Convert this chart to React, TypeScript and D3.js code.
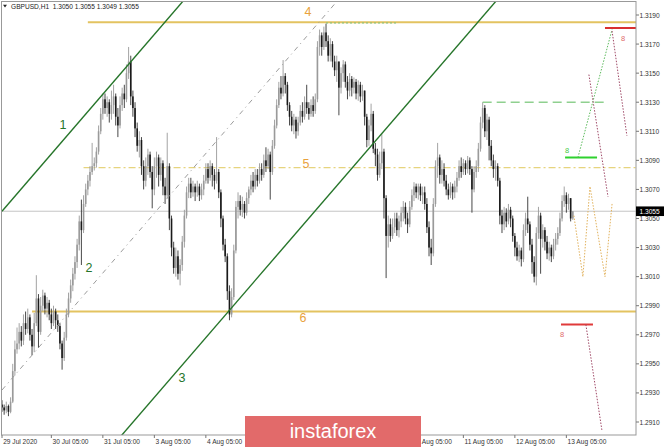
import React from "react";
import * as d3 from "d3";

// Prices are stored in pips above BASE (value 155 => 1.3055)
const BASE = 1.29;
const FIRST_OPEN = 22;
const CLOSE = [
  20, 18, 21, 17, 24, 45, 60, 64, 72, 66,
  78, 74, 82, 70, 62, 78, 95, 72, 90, 97,
  88, 92, 84, 78, 86, 80, 76, 64, 54, 68,
  84, 95, 104, 112, 120, 132, 148, 142, 160, 170,
  176, 182, 186, 188, 196, 210, 222, 232, 226, 230,
  222, 228, 234, 220, 214, 228, 236, 232, 250, 258,
  234, 226, 212, 200, 204, 186, 176, 186, 194, 182,
  170, 186, 192, 180, 188, 172, 166, 186, 150, 130,
  116, 124, 112, 118, 134, 152, 168, 174, 168, 172,
  168, 172, 166, 170, 176, 184, 178, 186, 180, 176,
  182, 168, 150, 132, 124, 100, 84, 96, 128, 158,
  162, 156, 160, 154, 164, 170, 176, 172, 180, 176,
  184, 180, 190, 186, 194, 182, 200, 214, 228, 240,
  236, 248, 242, 228, 220, 214, 218, 210, 216, 224,
  220, 230, 226, 222, 228, 224, 232, 268, 276, 268,
  278, 272, 262, 270, 258, 252, 258, 240, 250, 256,
  244, 238, 246, 240, 244, 236, 242, 234, 238, 220,
  204, 214, 222, 198, 194, 180, 188, 196, 164, 138,
  146, 138, 144, 150, 142, 148, 154, 158, 150, 146,
  158, 166, 172, 168, 172, 166, 168, 160, 144, 130,
  126, 160, 186, 192, 180, 184, 176, 170, 166, 172,
  168, 172, 178, 186, 182, 188, 184, 190, 184, 170,
  182, 186, 198, 216, 226, 210, 218, 200, 190, 184,
  186, 176, 152, 146, 154, 148, 156, 150, 138, 130,
  124, 128, 122, 142, 150, 146, 132, 120, 110, 140,
  152, 136, 142, 134, 126, 130, 124, 132, 136, 140,
  150, 162, 166, 160, 164, 150, 155,
];
const HIGH = [
  25, 22, 24, 22, 27, 50, 66, 75, 78, 76,
  84, 86, 88, 84, 74, 85, 111, 98, 96, 101,
  99, 96, 94, 88, 90, 88, 84, 78, 66, 72,
  88, 99, 108, 116, 124, 136, 152, 163, 166, 174,
  180, 186, 202, 192, 199, 214, 226, 236, 236, 234,
  232, 238, 242, 236, 226, 234, 240, 242, 256, 268,
  262, 238, 230, 216, 210, 206, 190, 192, 198, 196,
  186, 192, 196, 194, 192, 190, 178, 209, 188, 152,
  134, 130, 128, 122, 138, 156, 172, 178, 178, 176,
  174, 176, 174, 174, 180, 188, 188, 190, 188, 184,
  206, 184, 170, 152, 136, 126, 104, 102, 132, 162,
  168, 166, 165, 162, 168, 172, 180, 182, 184, 184,
  188, 188, 194, 199, 198, 196, 204, 218, 232, 244,
  248, 259, 250, 244, 230, 224, 222, 220, 220, 228,
  230, 234, 242, 230, 232, 234, 236, 272, 280, 278,
  282, 284, 276, 274, 272, 262, 262, 258, 254, 259,
  258, 248, 250, 248, 247, 246, 245, 244, 242, 238,
  222, 218, 229, 224, 202, 198, 196, 208, 198, 166,
  152, 150, 150, 154, 154, 152, 158, 162, 161, 154,
  162, 170, 175, 174, 174, 174, 172, 172, 164, 148,
  136, 164, 190, 202, 194, 190, 188, 180, 174, 175,
  174, 176, 182, 190, 192, 191, 190, 193, 192, 186,
  186, 190, 202, 220, 230, 228, 222, 220, 204, 194,
  190, 188, 178, 156, 158, 157, 160, 158, 152, 140,
  134, 132, 130, 146, 154, 165, 148, 136, 124, 144,
  158, 154, 146, 144, 138, 134, 132, 136, 140, 144,
  154, 166, 172, 168, 167, 164, 155,
];
const LOW = [
  17, 15, 16, 14, 16, 23, 42, 57, 60, 62,
  63, 70, 71, 66, 56, 58, 76, 61, 70, 86,
  84, 82, 80, 74, 76, 74, 72, 60, 46, 52,
  66, 82, 92, 100, 108, 116, 128, 118, 140, 158,
  166, 172, 180, 183, 185, 194, 208, 218, 222, 220,
  216, 218, 222, 214, 206, 212, 224, 226, 230, 246,
  228, 220, 206, 196, 192, 180, 170, 172, 180, 178,
  157, 166, 178, 172, 176, 166, 160, 164, 142, 124,
  112, 110, 108, 104, 114, 130, 150, 164, 164, 165,
  162, 165, 162, 163, 166, 174, 174, 176, 172, 170,
  174, 164, 144, 128, 120, 94, 80, 82, 94, 126,
  150, 152, 151, 150, 152, 160, 166, 168, 170, 172,
  174, 176, 178, 182, 184, 163, 180, 198, 212, 226,
  232, 234, 236, 224, 214, 210, 208, 205, 207, 214,
  216, 218, 222, 218, 220, 220, 222, 230, 262, 262,
  266, 268, 258, 258, 254, 248, 244, 221, 236, 244,
  240, 232, 234, 234, 236, 232, 231, 230, 231, 214,
  199, 200, 210, 195, 186, 176, 178, 184, 150, 109,
  130, 134, 136, 140, 138, 137, 144, 148, 146, 140,
  144, 156, 162, 164, 163, 162, 160, 156, 140, 124,
  118, 124, 158, 178, 174, 174, 172, 166, 163, 164,
  163, 164, 168, 176, 178, 180, 180, 181, 180, 154,
  168, 178, 182, 196, 212, 206, 204, 190, 186, 178,
  176, 172, 146, 140, 142, 144, 146, 144, 134, 124,
  121, 120, 117, 120, 138, 140, 128, 112, 106, 104,
  136, 112, 130, 128, 122, 121, 120, 122, 128, 132,
  138, 148, 158, 154, 156, 148, 149,
];

const PRICE_TICKS = [1.319, 1.317, 1.315, 1.313, 1.311, 1.309, 1.307, 1.305, 1.303, 1.301, 1.299, 1.297, 1.295, 1.293, 1.291];
// time labels visible in the reference (5-7 Aug lie under the watermark)
const TIME_TICK_INDEX = [0, 23, 47, 71, 95, 191, 215, 239, 263];
const TIME_TICK_LABEL = ["29 Jul 2020", "30 Jul 05:00", "31 Jul 05:00", "3 Aug 05:00", "4 Aug 05:00", "10 Aug 05:00", "11 Aug 05:00", "12 Aug 05:00", "13 Aug 05:00"];
const CURRENT_PRICE = 1.3055;
const TITLE = "GBPUSD,H1  1.3050 1.3055 1.3049 1.3055";

// channel lines [index, price]
const CHANNEL_1: [number, number][] = [[0, 1.3055], [90, 1.32092]];
const CHANNEL_2: [number, number][] = [[0, 1.2932], [160, 1.32061]];
const CHANNEL_3: [number, number][] = [[50, 1.2891], [240, 1.32163]];
// horizontal levels [start index, price]
const LEVEL_4: [number, number] = [40, 1.3185];
const LEVEL_5: [number, number] = [38, 1.3085];
const LEVEL_6: [number, number] = [14, 1.2986];
const PEAK_DOT: [number, number][] = [[151, 1.31845], [184, 1.31845]];
// projections
const GREEN_DASH: [number, number][] = [[224, 1.313], [282.4, 1.313]];
const GREEN_SOLID: [number, number][] = [[262.4, 1.3092], [277.3, 1.3092]];
const GREEN_DOT: [number, number][] = [[268.4, 1.3092], [284.3, 1.318]];
const RED_TOP: [number, number][] = [[281, 1.3181], [296, 1.3181]];
const PURPLE_A: [number, number][] = [[284.3, 1.3179], [291.2, 1.3107]];
const PURPLE_B: [number, number][] = [[273.5, 1.3149], [282.4, 1.3065]];
const ORANGE_ZIG: [number, number][] = [[266.5, 1.3052], [270.7, 1.301], [274, 1.3072], [281, 1.301], [284.3, 1.306]];
const RED_BOTTOM: [number, number][] = [[260.5, 1.2977], [275.4, 1.2977]];
const PURPLE_C: [number, number][] = [[272.1, 1.2977], [279.6, 1.2904]];

const NUM_LABEL_TEXT = ["1", "2", "3", "4", "5", "6"];
const NUM_LABEL_POS: [number, number][] = [[28.4, 1.3114], [40.5, 1.3016], [83.9, 1.2940], [142.6, 1.3192], [141.7, 1.30875], [140.3, 1.29815]];
const SMALL_LABEL_POS: [number, number][] = [[263.3, 1.3097], [289.4, 1.3174], [261, 1.297]];

const GREEN = "#26752a";
const ORANGE = "#e9a23c";
const FONT = "Liberation Sans, Arial, sans-serif";

export default function App() {
  const x = d3.scaleLinear().domain([0, 266]).range([2, 572.8]);
  const y = d3.scaleLinear().domain([1.291, 1.319]).range([422, 15]);
  const P = (v: number) => BASE + v / 10000;
  const L = 1, T = 1, R = 636, B = 435;
  const line = d3.line<[number, number]>().x((d) => x(d[0])).y((d) => y(d[1]));

  const bars = CLOSE.map((c, i) => {
    const o = i === 0 ? FIRST_OPEN : CLOSE[i - 1];
    const h = Math.max(HIGH[i], o, c);
    const l = Math.min(LOW[i], o, c);
    return { i, o: P(o), h: P(h), l: P(l), c: P(c) };
  });

  const hLevel = (lv: [number, number]) => (
    [[lv[0], lv[1]], [x.invert(R), lv[1]]] as [number, number][]
  );

  return (
    <svg width={665} height={447} style={{ position: "fixed", left: 0, top: 0, background: "#fff" }} fontFamily={FONT}>
      <defs>
        <clipPath id="plot"><rect x={L} y={T} width={R - L} height={B - T} /></clipPath>
      </defs>
      <rect width={665} height={447} fill="#fff" />
      <g clipPath="url(#plot)">
        <line x1={L} x2={R} y1={y(CURRENT_PRICE)} y2={y(CURRENT_PRICE)} stroke="#c4c4c4" strokeWidth={1} />
        <path d={line(hLevel(LEVEL_5))!} stroke="#e6d47e" strokeWidth={1.4} strokeDasharray="7,3,2,3" fill="none" />
        <path d={line(hLevel(LEVEL_4))!} stroke="#e3c360" strokeWidth={2} fill="none" />
        <path d={line(hLevel(LEVEL_6))!} stroke="#e3c360" strokeWidth={2} fill="none" />
        <path d={line(PEAK_DOT)!} stroke="#7cc07c" strokeWidth={1} strokeDasharray="2,2" fill="none" />
        {bars.map((b) => {
          const bear = b.c < b.o;
          const col = bear ? "#1a1a1a" : "#9a9a9a";
          const top = y(Math.max(b.o, b.c));
          const bot = y(Math.min(b.o, b.c));
          return (
            <g key={b.i}>
              <line x1={x(b.i)} x2={x(b.i)} y1={y(b.h)} y2={y(b.l)} stroke={bear ? "#333" : "#999"} strokeWidth={0.9} />
              <rect x={x(b.i) - 0.8} y={top} width={1.6} height={Math.max(0.8, bot - top)} fill={col} />
            </g>
          );
        })}
        <path d={line(CHANNEL_2)!} stroke="#9c9c9c" strokeWidth={1} strokeDasharray="5,4,1,4" fill="none" />
        <path d={line(CHANNEL_1)!} stroke={GREEN} strokeWidth={1.4} fill="none" />
        <path d={line(CHANNEL_3)!} stroke={GREEN} strokeWidth={1.4} fill="none" />
        <path d={line(GREEN_DASH)!} stroke="#8fd08f" strokeWidth={1.4} strokeDasharray="9,5" fill="none" />
        <path d={line(GREEN_SOLID)!} stroke="#2ed12e" strokeWidth={2} fill="none" />
        <path d={line(GREEN_DOT)!} stroke="#5dbb5d" strokeWidth={1} strokeDasharray="1.5,1.5" fill="none" />
        <path d={line(RED_TOP)!} stroke="#d93030" strokeWidth={2} fill="none" />
        <path d={line(RED_BOTTOM)!} stroke="#e03a3a" strokeWidth={2} fill="none" />
        <path d={line(PURPLE_A)!} stroke="#a04a68" strokeWidth={1} strokeDasharray="1.5,1.5" fill="none" />
        <path d={line(PURPLE_B)!} stroke="#a04a68" strokeWidth={1} strokeDasharray="1.5,1.5" fill="none" />
        <path d={line(PURPLE_C)!} stroke="#a04a68" strokeWidth={1} strokeDasharray="1.5,1.5" fill="none" />
        <path d={line(ORANGE_ZIG)!} stroke="#e2b25c" strokeWidth={1} strokeDasharray="1.5,1.5" fill="none" />
        {NUM_LABEL_TEXT.map((t, k) => (
          <text key={t} x={x(NUM_LABEL_POS[k][0])} y={y(NUM_LABEL_POS[k][1])} fontSize={12.5} textAnchor="middle" dominantBaseline="central" fill={k < 3 ? GREEN : ORANGE}>{t}</text>
        ))}
        <text x={x(SMALL_LABEL_POS[0][0])} y={y(SMALL_LABEL_POS[0][1])} fontSize={7.5} textAnchor="middle" dominantBaseline="central" fill="#3fc93f">8</text>
        <text x={x(SMALL_LABEL_POS[1][0])} y={y(SMALL_LABEL_POS[1][1])} fontSize={7.5} textAnchor="middle" dominantBaseline="central" fill="#e06a6a">8</text>
        <text x={x(SMALL_LABEL_POS[2][0])} y={y(SMALL_LABEL_POS[2][1])} fontSize={7.5} textAnchor="middle" dominantBaseline="central" fill="#e06a6a">8</text>
      </g>
      <rect x={L + 0.5} y={T + 0.5} width={R - L - 0.5} height={B - T - 0.5} fill="none" stroke="#999" strokeWidth={1} />
      <path d="M3,4.8 L7,4.8 L5,7.6 Z" fill="#222" />
      <text x={11} y={8.6} fontSize={6.6} fill="#222" style={{ whiteSpace: "pre" }}>{TITLE}</text>
      {PRICE_TICKS.map((p) => (
        <g key={p}>
          <line x1={R} x2={R + 3} y1={y(p)} y2={y(p)} stroke="#777" />
          <text x={639.5} y={y(p)} fontSize={6.6} fill="#333" dominantBaseline="central">{p.toFixed(4)}</text>
        </g>
      ))}
      <rect x={R} y={y(CURRENT_PRICE) - 4.8} width={28} height={9.6} fill="#000" />
      <text x={639.5} y={y(CURRENT_PRICE)} fontSize={6.6} fill="#fff" dominantBaseline="central">{CURRENT_PRICE.toFixed(4)}</text>
      {TIME_TICK_INDEX.map((ti, k) => (
        <g key={ti}>
          <line x1={x(ti)} x2={x(ti)} y1={B} y2={B + 3} stroke="#777" />
          <text x={x(ti) + 1.2} y={443.5} fontSize={6.6} fill="#333">{TIME_TICK_LABEL[k]}</text>
        </g>
      ))}
      <rect x={245} y={416} width={176} height={31} fill="#e26a6a" />
      <text x={333} y={438} fontSize={20} fill="#fff" textAnchor="middle">instaforex</text>
    </svg>
  );
}
